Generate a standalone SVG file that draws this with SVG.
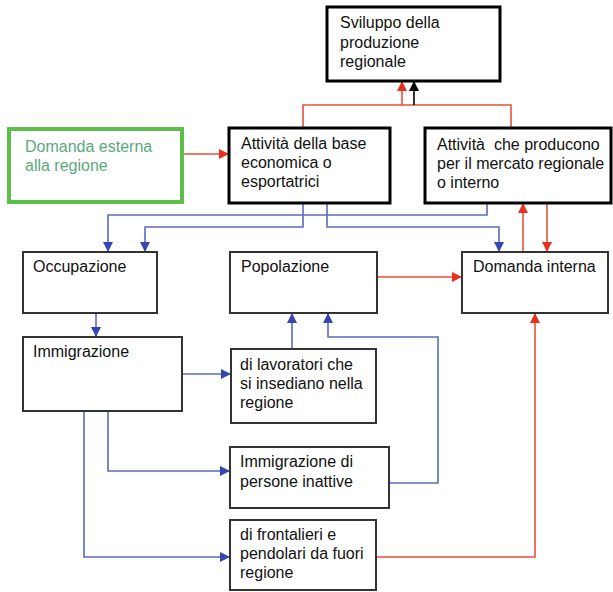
<svg xmlns="http://www.w3.org/2000/svg" width="613" height="592" viewBox="0 0 613 592">
<style>
text{font-family:"Liberation Sans",Arial,sans-serif;font-size:16px;fill:#111}
.thick{fill:#fff;stroke:#000;stroke-width:3}
.thin{fill:#fff;stroke:#333;stroke-width:2}
.green{fill:#fff;stroke:#5cbf4a;stroke-width:4}
.gt{fill:#5aa97c}
.r{fill:none;stroke:#e8513a;stroke-width:1.6}
.b{fill:none;stroke:#5b6bbd;stroke-width:1.6}
.k{fill:none;stroke:#000;stroke-width:1.6}
</style>
<defs>
<marker id="ar" markerUnits="userSpaceOnUse" markerWidth="12" markerHeight="12" refX="10" refY="5" orient="auto"><path d="M0,0 L10,5 L0,10 z" fill="#e8301e"/></marker>
<marker id="ab" markerUnits="userSpaceOnUse" markerWidth="12" markerHeight="12" refX="10" refY="5" orient="auto"><path d="M0,0 L10,5 L0,10 z" fill="#3546b0"/></marker>
<marker id="ak" markerUnits="userSpaceOnUse" markerWidth="12" markerHeight="12" refX="10" refY="5" orient="auto"><path d="M0,0 L10,5 L0,10 z" fill="#000"/></marker>
</defs>
<g id="connectors">
<path class="r" d="M183,154 H229" marker-end="url(#ar)"/>
<path class="r" d="M303,128 V105 H511 V128"/>
<path class="r" d="M402,105 V81" marker-end="url(#ar)"/>
<path class="k" d="M414,105 V81" marker-end="url(#ak)"/>
<path class="b" d="M303,203 V227 H145 V252" marker-end="url(#ab)"/>
<path class="b" d="M487,203 V215 H108 V252" marker-end="url(#ab)"/>
<path class="b" d="M327,203 V227 H499 V252" marker-end="url(#ab)"/>
<path class="r" d="M523,252 V203" marker-end="url(#ar)"/>
<path class="r" d="M547,203 V252" marker-end="url(#ar)"/>
<path class="r" d="M377,277 H462" marker-end="url(#ar)"/>
<path class="b" d="M96,313 V337" marker-end="url(#ab)"/>
<path class="b" d="M182,374 H231" marker-end="url(#ab)"/>
<path class="b" d="M292,349 V313" marker-end="url(#ab)"/>
<path class="b" d="M108,411 V471 H230" marker-end="url(#ab)"/>
<path class="b" d="M84,411 V557 H230" marker-end="url(#ab)"/>
<path class="b" d="M389,483 H438 V337 H328 V313" marker-end="url(#ab)"/>
<path class="r" d="M376,557 H535 V313" marker-end="url(#ar)"/>
</g>
<g id="sviluppo">
<rect class="thick" x="327" y="7" width="173" height="74"/>
<text x="340" y="28">Sviluppo della</text>
<text x="340" y="48">produzione</text>
<text x="340" y="67">regionale</text>
</g>
<g id="domanda-esterna">
<rect class="green" x="9" y="129" width="173" height="73"/>
<text class="gt" x="25" y="152">Domanda esterna</text>
<text class="gt" x="25" y="171">alla regione</text>
</g>
<g id="attivita-base">
<rect class="thick" x="229" y="128" width="161" height="75"/>
<text x="241" y="149">Attività della base</text>
<text x="241" y="168">economica o</text>
<text x="241" y="187">esportatrici</text>
</g>
<g id="attivita-mercato">
<rect class="thick" x="425" y="128" width="186" height="75"/>
<text x="437" y="150" xml:space="preserve">Attività  che producono</text>
<text x="437" y="169">per il mercato regionale</text>
<text x="437" y="188">o interno</text>
</g>
<g id="occupazione">
<rect class="thin" x="23" y="252" width="134" height="61"/>
<text x="33" y="272">Occupazione</text>
</g>
<g id="popolazione">
<rect class="thin" x="230" y="252" width="147" height="61"/>
<text x="241" y="272">Popolazione</text>
</g>
<g id="domanda-interna">
<rect class="thin" x="462" y="252" width="146" height="61"/>
<text x="473" y="272">Domanda interna</text>
</g>
<g id="immigrazione">
<rect class="thin" x="23" y="337" width="159" height="74"/>
<text x="33" y="357">Immigrazione</text>
</g>
<g id="lavoratori">
<rect class="thin" x="231" y="349" width="145" height="74"/>
<text x="240" y="370">di lavoratori che</text>
<text x="240" y="389">si insediano nella</text>
<text x="240" y="408">regione</text>
</g>
<g id="inattive">
<rect class="thin" x="230" y="447" width="159" height="61"/>
<text x="240" y="467">Immigrazione di</text>
<text x="240" y="487">persone inattive</text>
</g>
<g id="frontalieri">
<rect class="thin" x="230" y="520" width="146" height="70"/>
<text x="240" y="540">di frontalieri e</text>
<text x="240" y="559">pendolari da fuori</text>
<text x="240" y="578">regione</text>
</g>
</svg>
